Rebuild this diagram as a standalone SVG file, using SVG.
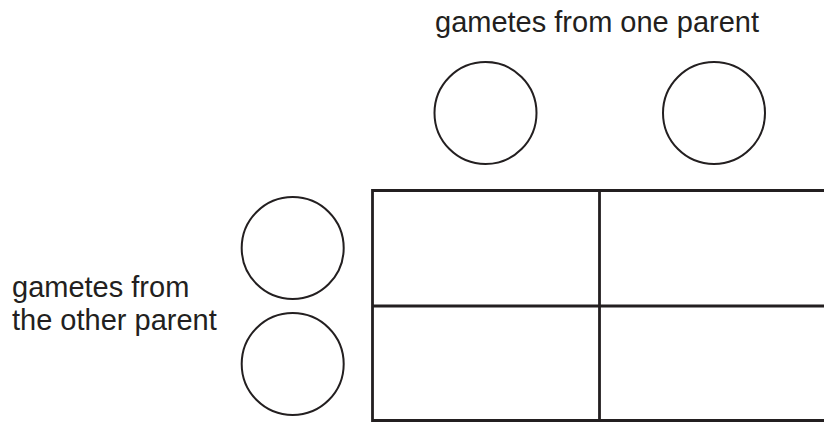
<svg xmlns="http://www.w3.org/2000/svg" width="824" height="423" viewBox="0 0 824 423">
<style>
.lbl{font-family:"Liberation Sans",Arial,sans-serif;font-size:29px;fill:#231f20}
.gam{fill:none;stroke:#231f20;stroke-width:2}
.grid{fill:none;stroke:#231f20;stroke-width:2.8}
</style>
<rect width="824" height="423" fill="#fff"/>
<text class="lbl" x="435" y="32">gametes from one parent</text>
<text class="lbl" x="12" y="297">gametes from</text>
<text class="lbl" x="12" y="330">the other parent</text>
<g id="gamete-top-1"><circle class="gam" cx="485.5" cy="113" r="51"/></g>
<g id="gamete-top-2"><circle class="gam" cx="714" cy="113" r="51"/></g>
<g id="gamete-left-1"><circle class="gam" cx="292.7" cy="248" r="51"/></g>
<g id="gamete-left-2"><circle class="gam" cx="292.7" cy="364" r="51"/></g>
<g id="punnett-grid">
<path class="grid" d="M826 190.5H372.5V420.5H826M372.5 306H826M599.5 190.5V420.5"/>
</g>
</svg>
